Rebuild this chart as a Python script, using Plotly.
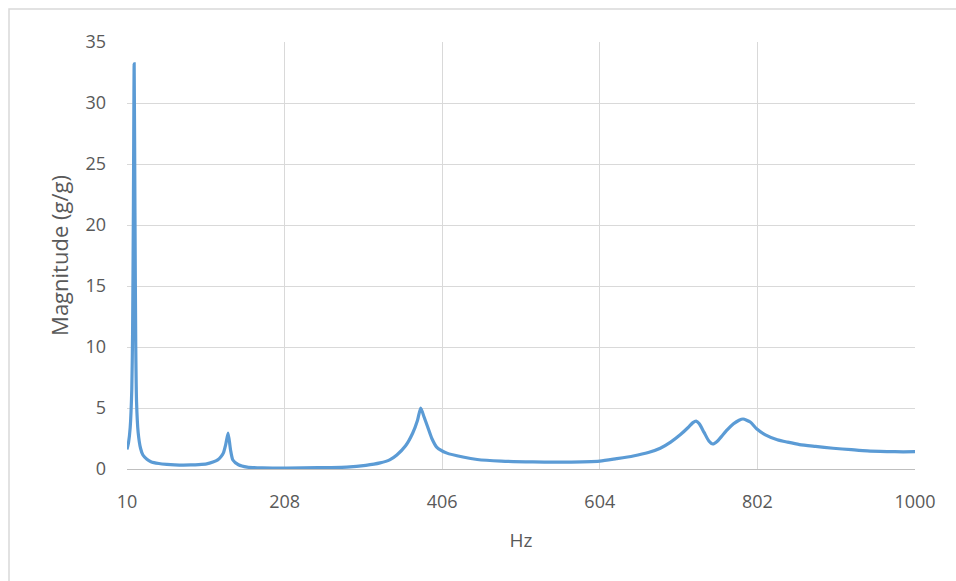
import plotly.graph_objects as go

# Frequency response: magnitude (g/g) vs frequency (Hz)
freq_hz = [
    10, 12, 14, 16, 17, 18, 19, 20, 21, 22, 24, 27, 30, 35, 40, 50, 60, 70, 80, 90,
    100, 110, 118, 124, 128, 131, 134, 137, 140, 143, 150, 161, 180, 211, 250, 286,
    310, 328, 340, 349, 360, 369, 375, 379, 383, 388, 393, 399, 412, 432, 450, 480,
    520, 560, 604, 625, 646, 665, 680, 693, 705, 715, 721, 725, 729, 735, 741, 746,
    752, 758, 764, 772, 779, 784, 793, 801, 812, 827, 840, 855, 875, 897, 920, 940,
    965, 985, 1000,
]
magnitude = [
    1.6, 2.2, 3.4, 6.5, 11.0, 21.0, 33.2, 21.0, 10.0, 5.5, 3.0, 1.7, 1.15, 0.8, 0.6, 0.45, 0.38, 0.34, 0.32, 0.33,
    0.36, 0.42, 0.57, 0.75, 1.0, 1.3, 2.0, 2.95, 1.6, 0.74, 0.35, 0.16, 0.1, 0.08, 0.11, 0.16,
    0.3, 0.5, 0.75, 1.15, 1.9, 2.95, 4.0, 5.0, 4.3, 3.4, 2.5, 1.8, 1.3, 0.98, 0.78, 0.65,
    0.58, 0.57, 0.65, 0.85, 1.07, 1.35, 1.7, 2.2, 2.8, 3.4, 3.8, 3.93, 3.7, 3.0, 2.3, 2.05,
    2.3, 2.75, 3.2, 3.7, 4.0, 4.1, 3.85, 3.3, 2.8, 2.4, 2.2, 2.0, 1.85, 1.7, 1.58, 1.48,
    1.43, 1.41, 1.42,
]

x_ticks = [10, 208, 406, 604, 802, 1000]
y_ticks = [0, 5, 10, 15, 20, 25, 30, 35]

font_family = "Open Sans, Liberation Sans, Arial"
text_gray = "#595959"
grid_gray = "#d9d9d9"

fig = go.Figure()
fig.add_trace(go.Scatter(
    x=freq_hz, y=magnitude, mode="lines",
    line=dict(color="#5b9bd5", width=3.2, shape="spline", smoothing=0.6),
    showlegend=False,
))

fig.update_layout(
    width=956, height=581,
    margin=dict(l=127, r=41, t=42, b=112),
    paper_bgcolor="white", plot_bgcolor="white",
    font=dict(family=font_family, color=text_gray, size=18),
    xaxis=dict(
        range=[10, 1000], tickvals=x_ticks, ticktext=[str(v) for v in x_ticks],
        showgrid=True, gridcolor=grid_gray, gridwidth=1,
        showline=True, linecolor="#bfbfbf", linewidth=1,
        zeroline=False, ticks="", ticklabelstandoff=16,
        title=dict(text="Hz", font=dict(size=19, color=text_gray), standoff=22),
    ),
    yaxis=dict(
        range=[0, 35], tickvals=y_ticks,
        showgrid=True, gridcolor=grid_gray, gridwidth=1,
        zeroline=False, showline=False, ticks="", ticklabelstandoff=20,
        title=dict(text="Magnitude (g/g)", font=dict(size=22, color=text_gray), standoff=10),
    ),
    shapes=[
        # outer chart frame
        dict(type="rect", xref="paper", yref="paper",
             x0=(9 - 127) / 788, x1=(962 - 127) / 788,
             y0=(469 - 590) / 427, y1=(469 - 9) / 427,
             line=dict(color=grid_gray, width=1.5), fillcolor="rgba(0,0,0,0)",
             layer="below"),
    ],
)

fig.write_html("out.html")
